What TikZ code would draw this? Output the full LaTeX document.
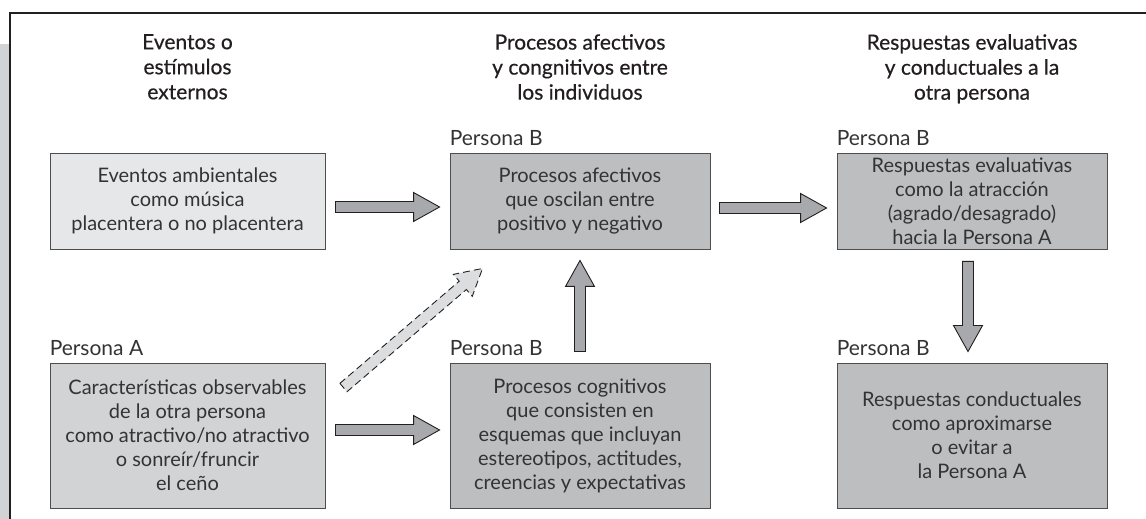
\documentclass[tikz,border=0pt]{standalone}
\usepackage{fontspec}
\setmainfont{Lato}
\newfontfamily\headfont{Lato}[FakeBold=0.5]
\usepackage{tikz}
\usetikzlibrary{positioning,calc}
\definecolor{ink}{HTML}{231F20}
\definecolor{txt}{HTML}{333333}
\definecolor{edge}{HTML}{4D4D4D}
\definecolor{palest}{HTML}{E6E7E8}
\definecolor{pale}{HTML}{D1D3D4}
\definecolor{mid}{HTML}{BCBEC0}
\definecolor{arrowfill}{HTML}{A7A9AC}
\definecolor{dashfill}{HTML}{DCDDDE}
\tikzset{
  box/.style={draw=edge, line width=0.9pt, align=center, inner sep=0pt,
              text=txt, font=\fontsize{20}{24}\selectfont},
  evbox/.style={box, fill=palest},
  abox/.style={box, fill=pale},
  bbox/.style={box, fill=mid},
  rowtop/.style={minimum height=96pt},
  rowbot/.style={minimum height=145pt},
  colhead/.style={align=center, inner sep=0pt, anchor=north, text=ink,
                  font=\headfont\fontsize{21}{25}\selectfont},
  plbl/.style={inner sep=0pt, text=txt, font=\fontsize{21}{22}\selectfont},
  fatarr/.style={draw=ink, line width=0.9pt, fill=arrowfill, line join=miter},
  dasharr/.style={fatarr, fill=dashfill, dash pattern=on 7pt off 4pt}
}
% block arrow between two points
\newcommand{\fatarrow}[3][fatarr]{%
  \coordinate (fa-s) at (#2);
  \coordinate (fa-e) at (#3);
  \coordinate (fa-h) at ($(fa-e)!26pt!(fa-s)$);
  \draw[#1] ($(fa-s)!5.5pt!90:(fa-e)$) -- ($(fa-h)!5.5pt!90:(fa-e)$)
    -- ($(fa-h)!14.5pt!90:(fa-e)$) -- (fa-e) -- ($(fa-h)!14.5pt!-90:(fa-e)$)
    -- ($(fa-h)!5.5pt!-90:(fa-e)$) -- ($(fa-s)!5.5pt!-90:(fa-e)$) -- cycle;}

\begin{document}
\begin{tikzpicture}[x=1pt,y=1pt]
  \useasboundingbox (0,0) rectangle (1146,519);
  % frame
  \fill[pale] (0,0) rectangle (10,475);
  \draw[ink, line width=1.2pt] (10,0) -- (10,506) -- (1146,506);

  % column heads
  \node[colhead] (h1) at (187.5,485) {Eventos o\\estímulos\\externos};
  \node[colhead] (h2) at (580,485) {Procesos afectivos\\y congnitivos entre\\los individuos};
  \node[colhead] (h3) at (972,485) {Respuestas evaluativas\\y conductuales a la\\otra persona};

  % boxes
  \node[evbox, rowtop, minimum width=275pt] (ev) at (187.5,318)
    {Eventos ambientales\\como música\\placentera o no placentera};
  \node[abox, rowbot, minimum width=275pt] (carA) at (187.5,83.5)
    {Características observables\\de la otra persona\\como atractivo/no atractivo\\o sonreír/fruncir\\el ceño};
  \node[bbox, rowtop, minimum width=260pt] (afec) at (580,318)
    {Procesos afectivos\\que oscilan entre\\positivo y negativo};
  \node[bbox, rowbot, minimum width=260pt] (cog) at (580,83.5)
    {Procesos cognitivos\\que consisten en\\esquemas que incluyan\\estereotipos, actitudes,\\creencias y expectativas};
  \node[bbox, rowtop, minimum width=270pt] (eval) at (972,318)
    {Respuestas evaluativas\\como la atracción\\(agrado/desagrado)\\hacia la Persona A};
  \node[bbox, rowbot, minimum width=270pt] (cond) at (972,83.5)
    {Respuestas conductuales\\como aproximarse\\o evitar a\\la Persona A};

  % who
  \node[plbl, above right=7pt and 0pt of carA.north west] (lbl-carA) {Persona A};
  \foreach \n in {afec,cog,eval,cond}
    \node[plbl, above right=7pt and 0pt of \n.north west] (lbl-\n) {Persona B};

  % arrows
  \fatarrow{$(ev.east)+(10,-6)$}{$(afec.west)+(-10,-6)$}
  \fatarrow{$(afec.east)+(9,-7)$}{$(eval.west)+(-10,-7)$}
  \fatarrow{$(carA.east)+(10,5.5)$}{$(cog.west)+(-10,5.5)$}
  \fatarrow{$(cog.north)+(0,11)$}{$(afec.south)+(0,-11)$}
  \fatarrow{$(eval.south)+(-4,-12)$}{$(cond.north)+(-4,11)$}
  \coordinate (dS) at ($(carA.north east)+(18,-25)$);
  \coordinate (dE) at ($(afec.south west)+(33,-19)$);
  \fatarrow[dasharr]{dS}{dE}
\end{tikzpicture}
\end{document}
